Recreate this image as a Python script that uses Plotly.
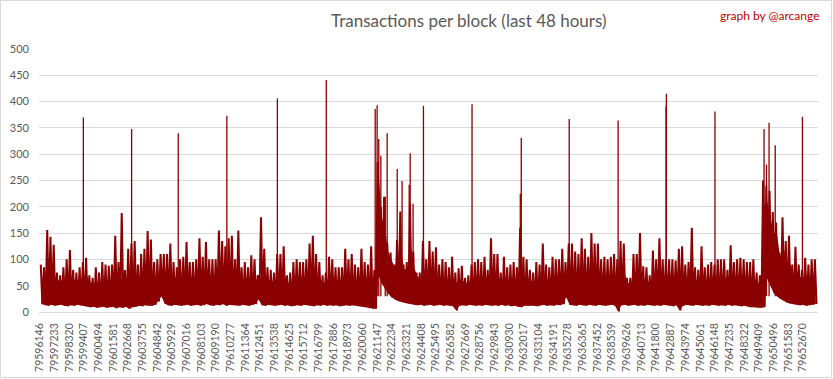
import plotly.graph_objects as go

START_BLOCK = 79596146
BLOCKS_PER_BUCKET = 240
TICK_STEP = 1087

TICK_LABELS = [
    "79596146", "79597233", "79598320", "79599407", "79600494", "79601581",
    "79602668", "79603755", "79604842", "79605929", "79607016", "79608103",
    "79609190", "79610277", "79611364", "79612451", "79613538", "79614625",
    "79615712", "79616799", "79617886", "79618973", "79620060", "79621147",
    "79622234", "79623321", "79624408", "79625495", "79626582", "79627669",
    "79628756", "79629843", "79630930", "79632017", "79633104", "79634191",
    "79635278", "79636365", "79637452", "79638539", "79639626", "79640713",
    "79641800", "79642887", "79643974", "79645061", "79646148", "79647235",
    "79648322", "79649409", "79650496", "79651583", "79652670",
]

# highest tx count seen in each 240-block bucket
HIGH = [
    90, 85, 156, 143, 128, 75, 70, 85, 100, 118,
    80, 75, 85, 95, 103, 70, 65, 85, 75, 95,
    90, 88, 90, 145, 95, 188, 80, 120, 130, 135,
    90, 110, 120, 154, 138, 95, 100, 110, 110, 110,
    130, 95, 85, 100, 105, 133, 95, 95, 100, 140,
    105, 133, 100, 100, 100, 155, 135, 125, 140, 145,
    100, 155, 85, 95, 85, 108, 100, 70, 180, 120,
    85, 80, 75, 110, 110, 125, 70, 75, 95, 100,
    95, 95, 100, 130, 145, 110, 95, 70, 75, 105,
    100, 85, 85, 85, 120, 100, 110, 90, 85, 120,
    95, 90, 125, 80, 285, 200, 219, 130, 113, 90,
    137, 191, 90, 95, 206, 115, 75, 75, 135, 100,
    135, 115, 123, 90, 100, 95, 85, 105, 75, 83,
    88, 65, 70, 90, 95, 100, 95, 105, 80, 140,
    110, 110, 75, 105, 85, 90, 95, 85, 160, 105,
    100, 80, 75, 95, 90, 130, 90, 85, 105, 100,
    100, 120, 95, 130, 130, 115, 110, 140, 120, 105,
    150, 130, 130, 100, 105, 100, 105, 110, 100, 135,
    130, 65, 65, 110, 110, 150, 87, 85, 70, 117,
    100, 140, 100, 100, 100, 100, 98, 120, 125, 90,
    95, 160, 85, 80, 125, 85, 90, 95, 90, 100,
    100, 100, 80, 127, 95, 100, 103, 100, 95, 95,
    100, 75, 70, 250, 240, 230, 190, 170, 113, 180,
    135, 145, 90, 124, 90, 80, 103, 90, 100, 100,
]

# level up to which nearly every block of the bucket reaches (dense band)
BODY = [
    65, 62, 68, 65, 68, 60, 60, 63, 66, 68,
    62, 60, 63, 65, 68, 57, 55, 57, 55, 60,
    57, 55, 60, 63, 60, 66, 57, 63, 68, 70,
    63, 68, 70, 75, 73, 66, 68, 70, 68, 70,
    73, 66, 63, 68, 68, 73, 66, 66, 68, 73,
    68, 73, 68, 68, 68, 75, 73, 70, 75, 75,
    68, 73, 60, 66, 60, 68, 66, 55, 73, 70,
    60, 60, 57, 68, 68, 70, 55, 57, 63, 66,
    63, 63, 66, 70, 73, 68, 63, 55, 57, 66,
    66, 60, 60, 60, 68, 63, 66, 60, 60, 68,
    63, 60, 66, 60, 270, 180, 160, 115, 100, 85,
    105, 115, 80, 85, 125, 85, 68, 63, 75, 68,
    73, 68, 70, 63, 66, 63, 60, 66, 55, 60,
    60, 55, 57, 63, 66, 66, 63, 68, 60, 70,
    68, 68, 57, 66, 60, 63, 66, 60, 85, 68,
    66, 60, 57, 63, 63, 73, 63, 60, 68, 66,
    66, 70, 66, 73, 73, 70, 68, 75, 70, 68,
    77, 73, 73, 66, 68, 66, 68, 68, 66, 73,
    73, 55, 55, 68, 68, 75, 63, 60, 55, 68,
    66, 73, 66, 66, 66, 66, 63, 70, 70, 63,
    66, 77, 60, 60, 70, 60, 63, 66, 63, 66,
    66, 66, 60, 70, 63, 66, 66, 66, 63, 63,
    66, 55, 55, 200, 210, 180, 150, 150, 105, 125,
    95, 95, 70, 80, 68, 63, 70, 66, 68, 68,
]

# lowest tx count seen in each bucket
LOW = [
    15, 13, 12, 14, 12, 13, 14, 12, 11, 13,
    12, 14, 13, 12, 11, 9, 10, 8, 9, 10,
    8, 9, 10, 7, 9, 8, 10, 6, 9, 10,
    12, 11, 13, 12, 12, 14, 20, 30, 16, 13,
    12, 14, 13, 12, 13, 14, 12, 13, 14, 12,
    13, 15, 13, 12, 14, 13, 15, 12, 14, 13,
    13, 12, 14, 13, 12, 14, 15, 24, 13, 12,
    14, 13, 12, 13, 14, 12, 13, 11, 12, 13,
    12, 14, 13, 12, 11, 13, 12, 14, 12, 13,
    12, 13, 11, 12, 13, 12, 13, 12, 11, 10,
    9, 7, 6, 6, 70, 54, 45, 35, 28, 24,
    21, 19, 17, 16, 15, 14, 13, 14, 12, 13,
    14, 12, 13, 14, 12, 13, 12, 11, 3, 12,
    13, 12, 14, 13, 12, 13, 12, 14, 13, 12,
    13, 12, 14, 12, 13, 11, 12, 10, 9, 12,
    12, 13, 12, 11, 13, 14, 12, 13, 12, 14,
    13, 15, 28, 14, 13, 12, 14, 13, 12, 14,
    13, 12, 14, 13, 12, 13, 14, 12, 1, 13,
    14, 12, 13, 14, 12, 13, 12, 14, 13, 12,
    13, 12, 14, 13, 12, 11, 13, 3, 12, 14,
    13, 12, 14, 13, 12, 13, 12, 14, 13, 12,
    13, 12, 14, 12, 13, 12, 11, 12, 10, 9,
    9, 8, 8, 9, 63, 50, 36, 30, 25, 22,
    18, 16, 15, 14, 13, 14, 12, 13, 14, 15,
]

# isolated very large blocks
SPIKE_BLOCKS = [
    79599362, 79602938, 79606394, 79609994, 79613738, 79617362,
    79620986, 79621130, 79621250, 79621406, 79621730, 79621874,
    79622618, 79622978, 79623506, 79623578, 79623794, 79624562,
    79628162, 79631738, 79631810, 79635362, 79638986, 79642538,
    79642562, 79646162, 79649798, 79649978, 79650170, 79650626,
    79652642,
]
SPIKE_VALUES = [
    370, 348, 340, 373, 406, 441,
    386, 393, 329, 297, 219, 340,
    272, 249, 242, 302, 206, 392,
    395, 225, 331, 367, 364, 391,
    415, 381, 348, 280, 360, 317,
    371,
]

RED = "#8B0000"
GREY_TXT = "#595959"
GRID = "#d9d9d9"
FONT = "Lato"

# build traces from the data
zig_x, zig_y = [], []
for i, (h, l) in enumerate(zip(HIGH, LOW)):
    b0 = START_BLOCK + i * BLOCKS_PER_BUCKET
    zig_x += [b0 + 60, b0 + 180]
    zig_y += [h, l]

cx = [START_BLOCK + i * BLOCKS_PER_BUCKET + 120 for i in range(len(LOW))]
body = [max(l, min(b, h)) for l, b, h in zip(LOW, BODY, HIGH)]

sp_x, sp_y = [], []
for b, v in zip(SPIKE_BLOCKS, SPIKE_VALUES):
    sp_x += [b, b, None]
    sp_y += [30, v, None]

fig = go.Figure()
fig.add_trace(go.Scatter(x=cx, y=LOW, mode="lines", line=dict(width=0, color=RED),
                         hoverinfo="skip", showlegend=False))
fig.add_trace(go.Scatter(x=cx, y=body, mode="lines", line=dict(width=0, color=RED),
                         fill="tonexty", fillcolor=RED, hoverinfo="skip", showlegend=False))
fig.add_trace(go.Scatter(x=zig_x, y=zig_y, mode="lines", line=dict(width=2, color=RED),
                         hoverinfo="skip", showlegend=False))
fig.add_trace(go.Scatter(x=sp_x, y=sp_y, mode="lines", line=dict(width=1.3, color=RED),
                         hoverinfo="skip", showlegend=False))

tickvals = [START_BLOCK + k * TICK_STEP for k in range(len(TICK_LABELS))]

L, R, T, B = 39, 15, 49, 67
W, H = 833, 379
PW, PH = W - L - R, H - T - B


def px_x(x):
    return (x - L) / PW


def px_y(y):
    return (T + PH - y) / PH


fig.update_layout(
    width=W, height=H,
    margin=dict(l=L, r=R, t=T, b=B, autoexpand=False),
    paper_bgcolor="white", plot_bgcolor="white",
    showlegend=False,
    hovermode=False,
    font=dict(family=FONT, color=GREY_TXT),
    xaxis=dict(
        range=[START_BLOCK - 70, START_BLOCK + 57650],
        tickmode="array", tickvals=tickvals, ticktext=TICK_LABELS,
        tickangle=-90, tickfont=dict(size=10.5, color=GREY_TXT, family=FONT),
        showgrid=False, zeroline=False, showline=True, linecolor=GRID, linewidth=1,
        ticks="", ticklabelstandoff=6, automargin=False,
    ),
    yaxis=dict(
        range=[0, 500], tickmode="array", tickvals=list(range(0, 501, 50)),
        tickfont=dict(size=11, color=GREY_TXT, family=FONT),
        showgrid=True, gridcolor=GRID, gridwidth=1, zeroline=False,
        showline=False, ticks="", ticklabelstandoff=9, automargin=False,
    ),
    annotations=[
        dict(text="Transactions per block (last 48 hours)", xref="paper", yref="paper",
             x=px_x(469), y=px_y(20), xanchor="center", yanchor="middle", showarrow=False,
             font=dict(size=17, color=GREY_TXT, family=FONT)),
        dict(text="graph by @arcange", xref="paper", yref="paper",
             x=px_x(822), y=px_y(15), xanchor="right", yanchor="middle", showarrow=False,
             font=dict(size=12, color="#C00000", family=FONT)),
    ],
    shapes=[
        dict(type="rect", xref="paper", yref="paper",
             x0=px_x(0.5), x1=px_x(831.5), y0=px_y(377.5), y1=px_y(0.5),
             line=dict(color=GRID, width=1), fillcolor="rgba(0,0,0,0)", layer="above"),
    ],
)

fig.write_html(
    "out.html",
    config={"displayModeBar": False, "staticPlot": True},
    post_script="document.body.style.margin='0';document.body.style.padding='0';"
                "document.body.style.overflow='hidden';",
)
